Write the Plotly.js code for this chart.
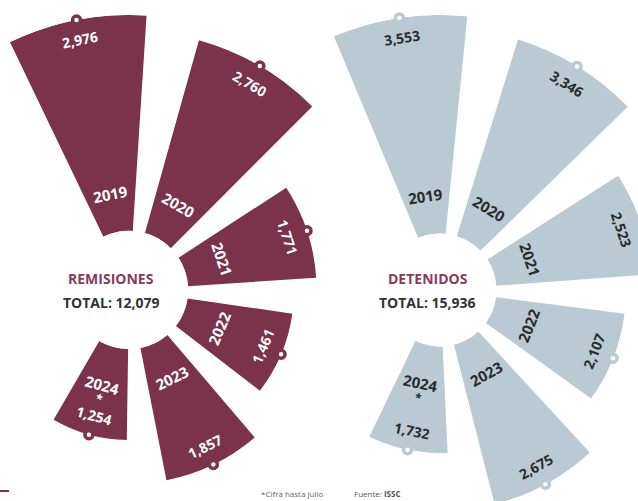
<!DOCTYPE html>
<html><head><meta charset="utf-8">
<script src="https://cdn.plot.ly/plotly-3.0.1.min.js"></script>
<style>
html,body{margin:0;padding:0;overflow:hidden;background:#fff;width:638px;height:501px}
#chart{position:absolute;left:-80px;top:0;width:840px;height:600px}
</style>
</head><body><div id="chart"></div>
<script>
// ---- data ----
const years = ['2019', '2020', '2021', '2022', '2023', '2024'];
const yearLabels = ['2019', '2020', '2021', '2022', '2023', '2024'];
const remisiones = [2976, 2760, 1771, 1461, 1857, 1254];
const detenidos = [3553, 3346, 2523, 2107, 2675, 1732];
const starredYear = '2024';
const titles = ['REMISIONES', 'DETENIDOS'];
const footnote = '*Cifra hasta julio';
const source = 'Fuente: <b>ISSC</b>';

// ---- styling / geometry ----
const MAROON = '#7b324b', BLUE = '#b9cad3', DARK = '#2a2a2a';
const DIV_LEFT = -80, DIV_W = 840, DIV_H = 600, MT = 15, MB = 35;
const R = (DIV_H - MT - MB) / 2;
const SECTOR = [-130, 130];
const X0 = Math.cos(SECTOR[1] * Math.PI / 180);
const fmt = v => v.toLocaleString('en-US');
const sum = a => a.reduce((s, v) => s + v, 0);

function domainFor(cxPage) {
  const left = cxPage - DIV_LEFT + X0 * R;
  const width = (1 - X0) * R;
  return [(left - 6) / DIV_W, (left + width + 6) / DIV_W];
}
const px2paperX = x => (x - DIV_LEFT) / DIV_W;
const px2paperY = y => 1 - (y - MT) / (DIV_H - MT - MB);

const charts = [
  {polar: 'polar', values: remisiones, color: MAROON, txt: '#ffffff', cx: 129, rotation: 101, period: 360 / 41.3, hole: 0.215, title: titles[0], tx: 111},
  {polar: 'polar2', values: detenidos, color: BLUE, txt: DARK, cx: 440, rotation: 98.5, period: 360 / 40, hole: 0.205, title: titles[1], tx: 428}
];

const traces = [];
charts.forEach(ch => {
  traces.push({
    type: 'barpolar', subplot: ch.polar, r: ch.values, theta: years,
    marker: {color: ch.color, line: {width: 0}}, hoverinfo: 'skip', showlegend: false
  });
  traces.push({
    type: 'scatterpolar', subplot: ch.polar, r: ch.values, theta: years, mode: 'markers',
    cliponaxis: false,
    marker: {size: 8, color: '#ffffff', line: {color: ch.color, width: 3.5}},
    hoverinfo: 'skip', showlegend: false
  });
});

function polarLayout(ch) {
  return {
    domain: {x: domainFor(ch.cx), y: [0, 1]},
    sector: SECTOR,
    hole: ch.hole,
    bgcolor: 'rgba(0,0,0,0)',
    bargap: 0.29,
    radialaxis: {range: [0, Math.max(...ch.values)], visible: false, showgrid: false, showline: false, showticklabels: false, ticks: ''},
    angularaxis: {type: 'category', categoryarray: years, categoryorder: 'array', period: ch.period, rotation: ch.rotation,
      direction: 'clockwise', showgrid: false, showline: false, showticklabels: false, ticks: ''}
  };
}

const staticAnn = [];
charts.forEach(ch => {
  staticAnn.push({xref: 'paper', yref: 'paper', x: px2paperX(ch.tx), y: px2paperY(278), text: '<b>' + ch.title + '</b>',
    showarrow: false, xanchor: 'center', yanchor: 'middle', font: {family: 'Open Sans', size: 14, color: '#8a3a5c'}});
  staticAnn.push({xref: 'paper', yref: 'paper', x: px2paperX(ch.tx), y: px2paperY(302), text: '<b>TOTAL: ' + fmt(sum(ch.values)) + '</b>',
    showarrow: false, xanchor: 'center', yanchor: 'middle', font: {family: 'Open Sans', size: 14, color: '#333333'}});
});
staticAnn.push({xref: 'paper', yref: 'paper', x: px2paperX(292), y: px2paperY(494), text: footnote, showarrow: false,
  xanchor: 'center', yanchor: 'middle', font: {family: 'Open Sans', size: 8, color: '#666666'}});
staticAnn.push({xref: 'paper', yref: 'paper', x: px2paperX(378), y: px2paperY(494), text: source, showarrow: false,
  xanchor: 'center', yanchor: 'middle', font: {family: 'Open Sans', size: 8, color: '#555555'}});

const layout = {
  width: DIV_W, height: DIV_H,
  margin: {l: 0, r: 0, t: MT, b: MB},
  paper_bgcolor: '#ffffff',
  showlegend: false,
  polar: polarLayout(charts[0]),
  polar2: polarLayout(charts[1]),
  annotations: staticAnn,
  shapes: [{type: 'line', xref: 'paper', yref: 'paper', x0: px2paperX(0), x1: px2paperX(9), y0: px2paperY(491), y1: px2paperY(491),
    line: {color: MAROON, width: 2}}]
};

function labelAnnotations(gd) {
  const fl = gd._fullLayout, gs = fl._size;
  const out = [];
  charts.forEach(ch => {
    const sp = fl[ch.polar]._subplot;
    const cx = sp.cx, cy = sp.cy, rad = sp.radius, inner = sp.innerRadius;
    const rmax = Math.max(...ch.values);
    const toPaper = (r, a) => {
      const x = cx + r * Math.cos(a * Math.PI / 180);
      const y = cy - r * Math.sin(a * Math.PI / 180);
      return {x: (x - gs.l) / gs.w, y: 1 - (y - gs.t) / gs.h};
    };
    ch.values.forEach((v, i) => {
      const ang = ch.rotation - i * 360 / ch.period;
      let rot = 90 - ang;
      while (rot > 90) rot -= 180;
      while (rot <= -90) rot += 180;
      const rOut = inner + (rad - inner) * v / rmax;
      const pv = toPaper(rOut - 20, ang);
      out.push({xref: 'paper', yref: 'paper', x: pv.x, y: pv.y, text: '<b>' + fmt(v) + '</b>', textangle: rot,
        showarrow: false, xanchor: 'center', yanchor: 'middle', font: {family: 'Open Sans', size: 14, color: ch.txt}});
      const rYear = inner + 39;
      const py = toPaper(rYear, ang);
      out.push({xref: 'paper', yref: 'paper', x: py.x, y: py.y, text: '<b>' + yearLabels[i] + '</b>', textangle: rot,
        showarrow: false, xanchor: 'center', yanchor: 'middle', font: {family: 'Open Sans', size: 15, color: ch.txt}});
      if (years[i] === starredYear) {
        const ps = toPaper(rYear + 14, ang);
        out.push({xref: 'paper', yref: 'paper', x: ps.x, y: ps.y, text: '<b>*</b>', textangle: rot,
          showarrow: false, xanchor: 'center', yanchor: 'middle', font: {family: 'Open Sans', size: 12, color: ch.txt}});
      }
    });
  });
  return out;
}

Plotly.newPlot('chart', traces, layout, {displayModeBar: false, staticPlot: true}).then(gd => {
  return Plotly.relayout(gd, {annotations: staticAnn.concat(labelAnnotations(gd))});
});
</script>
</body></html>
